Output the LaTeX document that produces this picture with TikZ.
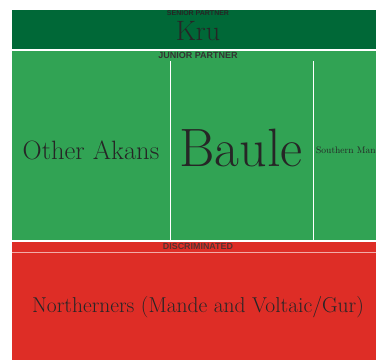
\documentclass[tikz,border=0pt]{standalone}
\usepackage{fontspec}
\setsansfont{Liberation Sans}
\usepackage{tikz}
\definecolor{seniorgreen}{HTML}{006837}
\definecolor{juniorgreen}{HTML}{31A354}
\definecolor{discred}{HTML}{DE2D26}
\definecolor{labelgray}{HTML}{333333}

\begin{document}
\begin{tikzpicture}[x=1pt, y=1pt, inner sep=0pt]
        \tikzset{
            band/.style={rectangle, anchor=north west, draw=none},
            tag/.style={font=\sffamily\bfseries, text=labelgray},
            group/.style={text=black!85}
        }
        \useasboundingbox (0,0) rectangle (376,-360);
        % Bandas
        \node[band, fill=seniorgreen, minimum width=364pt, minimum height=39pt] (senior) at (12,-10) {};
        \node[band, fill=juniorgreen, minimum width=364pt, minimum height=189.5pt] (junior) at (12,-50.5) {};
        \node[band, fill=discred, minimum width=364pt, minimum height=118.5pt] (disc) at (12,-241.5) {};
        \coordinate (sepA) at (170,-61);
        \coordinate (sepB) at (313,-61);
        \coordinate (sepAend) at (170,-240);
        \coordinate (sepBend) at (313,-240);
        \coordinate (redL) at (12,-252);
        \coordinate (redR) at (376,-252);
    
        % Separadores
        \draw[white, line width=1pt] (sepA) -- (sepAend);
        \draw[white, line width=1pt] (sepB) -- (sepBend);
        \draw[white!60!discred, line width=0.6pt] (redL) -- (redR);

        % Etiquetas
        \node[tag, font=\sffamily\bfseries\fontsize{7}{8}\selectfont, text=black!85] (seniortag) at (198,-13) {SENIOR PARTNER};
        \node[group, font=\fontsize{28}{30}\selectfont] (kru) at (198,-31) {Kru};
        \node[tag, font=\sffamily\bfseries\fontsize{9}{10}\selectfont] (juniortag) at (198,-55.5) {JUNIOR PARTNER};
        \node[group, font=\fontsize{26.5}{28}\selectfont] (akans) at (91,-150) {Other Akans};
        \node[group, font=\fontsize{54}{56}\selectfont] (baule) at (241,-148) {Baule};
        \node[group, anchor=west, font=\fontsize{9.5}{11}\selectfont] (smande) at (316,-150) {Southern Mande};
        \node[tag, font=\sffamily\bfseries\fontsize{8.9}{10}\selectfont, text=labelgray!80!discred] (disctag) at (198,-246.5) {DISCRIMINATED};
        \node[group, font=\fontsize{21.5}{23}\selectfont] (north) at (198,-307) {Northerners (Mande and Voltaic/Gur)};
    \end{tikzpicture}
\end{document}
